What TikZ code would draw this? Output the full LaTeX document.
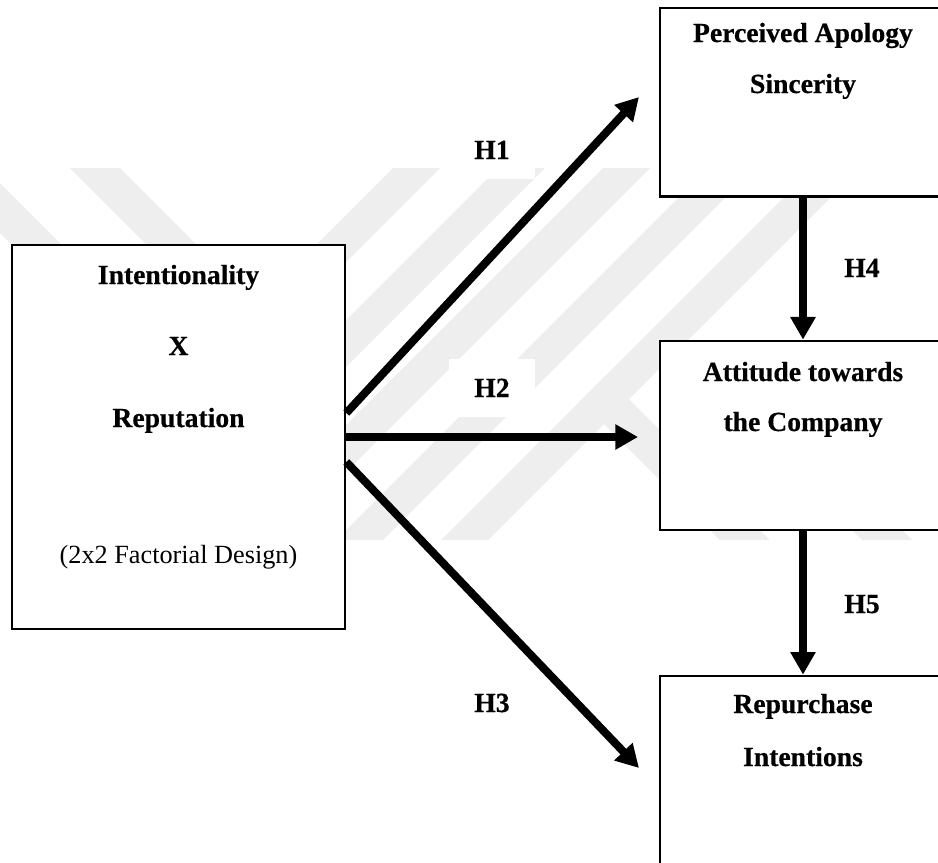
\documentclass[tikz,border=0pt]{standalone}
\usepackage{fontspec}
\setmainfont{Liberation Serif}[BoldFeatures={FakeBold=0.5}]
\usetikzlibrary{arrows.meta}
\definecolor{wmark}{gray}{0.935}
\begin{document}
\begin{tikzpicture}[x=0.03cm,y=-0.03cm,
  box/.style={draw, line width=0.08cm, fill=white, inner sep=0pt},
  btxt/.style={font=\fontsize{23.6}{28}\selectfont\bfseries, anchor=base, inner sep=0pt},
  rtxt/.style={font=\fontsize{22.4}{27}\selectfont, anchor=base, inner sep=0pt},
  hyp/.style={font=\fontsize{23.6}{28}\selectfont\bfseries, anchor=base, fill=white,
              inner xsep=0.75cm, inner ysep=0.6cm},
  link/.style={line width=0.24cm, -{Triangle[length=0.68cm,width=0.72cm]}}]

\useasboundingbox (0,0) rectangle (938,863);
\clip (0,0) rectangle (938,863);

% background emblem: pale diagonal bands
\begin{scope}
  \clip (0,168) rectangle (938,540);
  \foreach \s in {561,666,771,876,981}
    \fill[wmark] (\s-168,168) -- (\s-121,168) -- (\s-493,540) -- (\s-540,540) -- cycle;
\end{scope}
\begin{scope}
  \clip (0,168) -- (440,168) -- (68,540) -- (0,540) -- cycle;
  \foreach \d in {-98,-233}
    \fill[wmark] (\d+168,168) -- (\d+218,168) -- (\d+590,540) -- (\d+540,540) -- cycle;
\end{scope}
\begin{scope}
  \clip (611,370) -- (938,370) -- (938,540) -- (441,540) -- cycle;
  \foreach \d in {180,322}
    \fill[wmark] (\d+168,168) -- (\d+218,168) -- (\d+590,540) -- (\d+540,540) -- cycle;
\end{scope}

% hypothesis labels
\node[hyp] (h1) at (492,159) {H1};
\node[hyp] (h2) at (492,397) {H2};
\node[hyp] (h3) at (492,712) {H3};
\node[hyp] (h4) at (862,277) {H4};
\node[hyp] (h5) at (862,613) {H5};

% boxes
\node[box, minimum width=9.99cm, minimum height=11.52cm] (L) at (178.5,437) {};
\node[box, minimum width=8.58cm, minimum height=5.655cm] (T) at (803,102.25) {};
\node[box, minimum width=8.58cm, minimum height=5.67cm] (M) at (803,435.5) {};
\node[box, minimum width=8.58cm, minimum height=5.67cm] (B) at (803,770.5) {};

% box texts
\node[btxt] (l1) at (178.5,284) {Intentionality};
\node[btxt] (l2) at (178.5,355) {X};
\node[btxt] (l3) at (178.5,427) {Reputation};
\node[rtxt] (l4) at (178.5,563) {(2x2 Factorial Design)};
\node[btxt] (t1) at (803,42) {Perceived Apology};
\node[btxt] (t2) at (803,93) {Sincerity};
\node[btxt] (m1) at (803,381) {Attitude towards};
\node[btxt] (m2) at (803,431) {the Company};
\node[btxt] (b1) at (803,713) {Repurchase};
\node[btxt] (b2) at (803,766) {Intentions};

% connectors
\coordinate (s1) at ([yshift=0.72cm]L.east);
\coordinate (s3) at ([yshift=-0.75cm]L.east);
\coordinate (e1) at (639,97);
\coordinate (e2) at (638,437);
\coordinate (e3) at (639,768);
\draw[link] (s1) -- (e1);
\draw[link] (L.east) -- (e2);
\draw[link] (s3) -- (e3);
\draw[link] (T.south) -- (M.north);
\draw[link] (M.south) -- (B.north);
\end{tikzpicture}
\end{document}
